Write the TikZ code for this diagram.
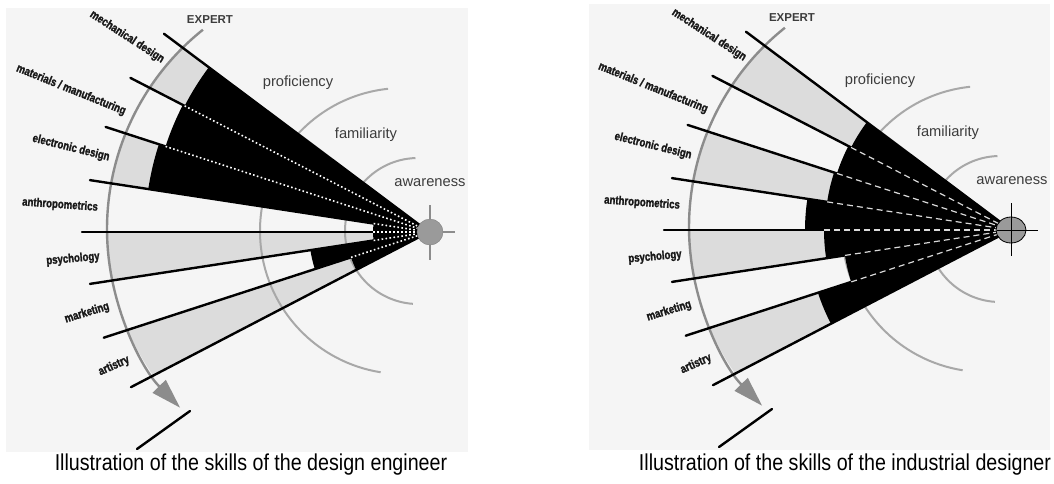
\documentclass[tikz,border=0pt]{standalone}
\usepackage{fontspec}
\setmainfont{Liberation Sans}
\newfontfamily\skillfont[FakeStretch=0.8, FakeBold=1.6]{Liberation Sans}
\newfontfamily\capfont[FakeStretch=0.855]{Liberation Sans}
\usetikzlibrary{arrows.meta, shapes.geometric}

\definecolor{panelbg}{HTML}{F5F5F5}
\definecolor{bandgray}{HTML}{DCDCDC}
\definecolor{arcgray}{HTML}{8C8C8C}
\definecolor{ringgray}{HTML}{A8A8A8}
\definecolor{hubgray}{HTML}{9A9A9A}
\definecolor{inkgray}{HTML}{3C3C3C}

\tikzset{
    spoke/.style = {line width = 2.4pt, line cap = round},
    expertarc/.style = {arcgray, line width = 2.4pt, -{Triangle[length = 30pt, width = 18pt]}},
    levelarc/.style = {ringgray, line width = 2pt},
    skill/.style = {font = {\skillfont\bfseries\fontsize{12}{14}\selectfont}, text = black!90, inner sep = 1pt},
    level/.style = {font = {\fontsize{14.7}{17}\selectfont}, text = inkgray},
    expertlabel/.style = {font = {\bfseries\fontsize{11.5}{13}\selectfont}, text = inkgray},
    caption/.style = {font = {\capfont\fontsize{23}{26}\selectfont}},
    dotspoke/.style = {white, line width = 1.6pt, dash pattern = on 1.6pt off 2.4pt},
    dashspoke/.style = {white!85!black, line width = 1.2pt, dash pattern = on 6pt off 4pt}
}

% grey bands, cut off by the expert arc
\newcommand{\fanbands}{
    \begin{scope}
        \clip (-67,3) circle (255);
        \foreach \a/\b in {143.2/152.7, 162/171.3, 180/188.7, 198/207.5}
            \fill [bandgray] (0,0) -- (\a:400) arc[start angle = \a, end angle = \b, radius = 400] -- cycle;
    \end{scope}
}

% expert arc with arrow, level arcs
\newcommand{\fanrings}{
    \draw [expertarc] (-67,3) ++(128.6:255) arc[start angle = 128.6, end angle = 224.5, radius = 255];
    \draw [spoke] (-292,-217) -- (-239,-179);
    \draw [levelarc] (-26,1) ++(96:143) arc[start angle = 96, end angle = 261, radius = 143];
    \draw [levelarc] (-11,1) ++(92:73) arc[start angle = 92, end angle = 266, radius = 73];
}

\newcommand{\fanspokes}{
    \foreach \a/\l in {143.2/331, 152.7/336, 162/340, 171.3/343, 180/347, 188.7/343, 198/342, 207.5/336}
        \draw [spoke] (0,0) -- (\a:\l);
}

\newcommand{\fanlabels}{
    \node [expertlabel] (expert) at (-219,212) {EXPERT};
    \node [level] (prof) at (-131,149) {proficiency};
    \node [level] (fam) at (-63,97) {familiarity};
    \node [level] (aware) at (1,49) {awareness};

    \node [skill, rotate = -33] (mech) at (-302,195) {mechanical design};
    \node [skill, rotate = -22] (mat) at (-358,142) {materials / manufacturing};
    \node [skill, rotate = -14] (elec) at (-358,84) {electronic design};
    \node [skill, rotate = -4] (anthro) at (-369,27) {anthropometrics};
    \node [skill, rotate = 5] (psych) at (-356,-27) {psychology};
    \node [skill, rotate = 17] (mark) at (-342,-81) {marketing};
    \node [skill, rotate = 24] (art) at (-315,-134) {artistry};
}

\begin{document}
\begin{tikzpicture}[x = 1pt, y = 1pt]
    \useasboundingbox (0,0) rectangle (1054,-483);
    \fill [white] (0,0) rectangle (1054,-483);
    \fill [panelbg] (6,-8) rectangle (468,-452);
    \fill [panelbg] (589,-4) rectangle (1050,-450);

    % design engineer
    \begin{scope}[shift = {(429,-232)}, name prefix = L-]
        \fanbands
        \fanrings
        \foreach \a/\b/\r in {143.2/152.7/275, 152.7/162/277, 162/171.3/284, 171.3/180/56,
                              180/188.7/56, 188.7/198/120, 198/207.5/82}
            \fill [black] (0,0) -- (\a:\r) arc[start angle = \a, end angle = \b, radius = \r] -- cycle;
        \fanspokes
        \foreach \a/\r in {152.7/275, 162/277, 171.3/56, 180/56, 188.7/56, 198/82}
            \draw [dotspoke] (\a:\r) -- (\a:12);

        \draw [arcgray, line width = 1.5pt] (1,27) -- (1,-28);
        \draw [arcgray, line width = 1.5pt] (0,0) -- (26,0);
        \node [circle, fill = hubgray, draw = gray, minimum size = 26pt, inner sep = 0pt] (hub) at (1,0) {};
        \fanlabels
    \end{scope}

    % industrial designer
    \begin{scope}[shift = {(1011,-230)}, name prefix = R-]
        \fanbands
        \fanrings
        \foreach \a/\b/\r in {143.2/152.7/180, 152.7/162/183, 162/171.3/186, 171.3/180/206,
                              180/188.7/187, 188.7/198/168, 198/207.5/203}
            \fill [black] (0,0) -- (\a:\r) arc[start angle = \a, end angle = \b, radius = \r] -- cycle;
        \fanspokes
        \foreach \a/\r in {152.7/180, 162/183, 171.3/186, 180/187, 188.7/168, 198/168}
            \draw [dashspoke] (\a:\r) -- (\a:12);

        \node [ellipse, fill = hubgray, draw = black, line width = 0.8pt,
               minimum width = 30pt, minimum height = 26pt, inner sep = 0pt] (hub) at (0,0) {};
        \draw [line width = 0.8pt] (0,27) -- (0,-26);
        \draw [line width = 0.8pt] (-14,0) -- (27,0);
        \fanlabels
    \end{scope}

    \node [caption] (capL) at (251,-465) {Illustration of the skills of the design engineer};
    \node [caption] (capR) at (845,-465) {Illustration of the skills of the industrial designer};
\end{tikzpicture}
\end{document}
